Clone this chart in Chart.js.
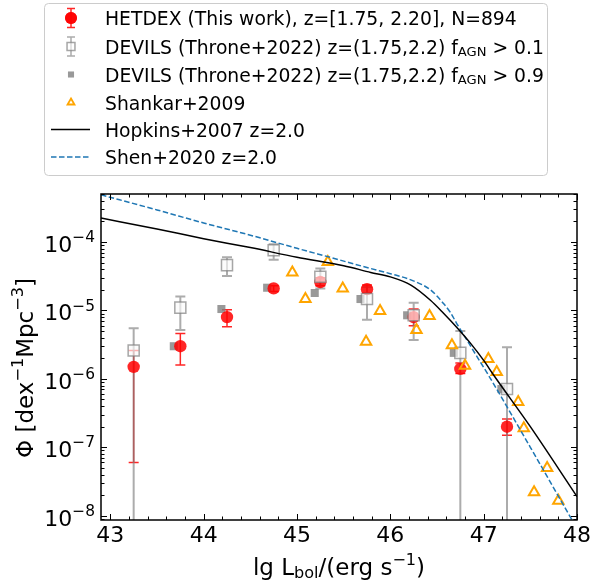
<!DOCTYPE html>
<html>
<head>
<meta charset="utf-8">
<script src="https://cdn.jsdelivr.net/npm/chart.js@4.4.0/dist/chart.umd.min.js"></script>
<style>
  body { margin: 0; background: #fff; }
  #wrap { position: relative; width: 594px; height: 584px; }
</style>
</head>
<body>
<div id="wrap"><canvas id="lf"></canvas></div>
<script>
const FONT = "'DejaVu Sans', sans-serif";

// luminosity bin centres, lg L_bol
const binCentres = [43.25, 43.75, 44.25, 44.75, 45.25, 45.75, 46.25, 46.75, 47.25];

// HETDEX (this work)
const hetdexPhi = [1.5e-6, 3.0e-6, 8.0e-6, 2.1e-5, 2.6e-5, 2.05e-5, 8.0e-6, 1.4e-6, 2.0e-7];
const hetdexLo  = [6.0e-8, 1.6e-6, 5.8e-6, 1.9e-5, 2.3e-5, 1.8e-5, 6.0e-6, 1.2e-6, 1.5e-7];
const hetdexHi  = [2.6e-6, 4.6e-6, 1.02e-5, 2.3e-5, 3.0e-5, 2.35e-5, 1.05e-5, 1.7e-6, 2.6e-7];

// DEVILS f_AGN > 0.1
const devils01Phi = [2.6e-6, 1.1e-5, 4.6e-5, 7.6e-5, 3.1e-5, 1.47e-5, 8.5e-6, 2.4e-6, 7.1e-7];
const devils01Lo  = [1e-10, 5.2e-6, 3.2e-5, 5.5e-5, 2.1e-5, 7.3e-6, 3.7e-6, 1e-10, 1e-10];
const devils01Hi  = [5.5e-6, 1.6e-5, 6.0e-5, 9.3e-5, 4.1e-5, 2.2e-5, 1.3e-5, 5.0e-6, 2.9e-6];

// DEVILS f_AGN > 0.9
const devils09X   = [43.68, 44.19, 44.68, 45.19, 45.68, 46.18, 46.68, 47.19];
const devils09Phi = [3.0e-6, 1.05e-5, 2.15e-5, 1.8e-5, 1.47e-5, 8.5e-6, 2.4e-6, 7.1e-7];

// Shankar+2009
const shankarX   = [44.95, 45.09, 45.33, 45.49, 45.74, 45.89, 46.28, 46.42, 46.66, 46.80, 47.05, 47.14, 47.37, 47.43, 47.54, 47.68, 47.80];
const shankarPhi = [3.6e-5, 1.47e-5, 5.1e-5, 2.1e-5, 3.5e-6, 9.8e-6, 5.2e-6, 8.3e-6, 3.1e-6, 1.55e-6, 1.95e-6, 1.26e-6, 4.6e-7, 1.9e-7, 2.2e-8, 5.0e-8, 1.65e-8];

// Hopkins+2007 z=2.0
const hopkinsX   = [42.9, 43.5, 44.0, 44.5, 45.0, 45.5, 45.79, 46.0, 46.22, 46.43, 46.57, 46.72, 46.86, 47.0, 47.11, 47.5, 48.0];
const hopkinsPhi = [2.24e-4, 1.55e-4, 1.12e-4, 8.3e-5, 6.0e-5, 4.5e-5, 3.6e-5, 3.1e-5, 2.35e-5, 1.41e-5, 9.1e-6, 5.5e-6, 3.3e-6, 1.86e-6, 1.12e-6, 2.0e-7, 1.9e-8];

// Shen+2020 z=2.0
const shenX   = [42.9, 43.5, 44.0, 44.5, 45.0, 45.4, 45.79, 46.0, 46.22, 46.43, 46.57, 46.64, 46.71, 46.82, 46.93, 47.04, 47.5, 47.97];
const shenPhi = [4.9e-4, 2.95e-4, 1.9e-4, 1.26e-4, 8.1e-5, 5.75e-5, 4.1e-5, 3.45e-5, 2.8e-5, 2.0e-5, 1.26e-5, 9.5e-6, 6.5e-6, 3.7e-6, 2.1e-6, 1.2e-6, 1.0e-7, 7.6e-9];

const xTickValues = [43, 44, 45, 46, 47, 48];
const yTickValues = [1e-8, 1e-7, 1e-6, 1e-5, 1e-4];

const pts = (xs, ys) => xs.map((x, i) => ({ x: x, y: ys[i] }));

// text with sub/superscripts: parts = [[text, ''|'sup'|'sub'], ...]
function richWidth(ctx, parts, size) {
  let w = 0;
  parts.forEach(([t, k]) => {
    ctx.font = (k ? size * 0.7 : size) + 'px ' + FONT;
    w += ctx.measureText(t).width;
  });
  return w;
}
function drawRich(ctx, parts, x, y, size, align) {
  const w = richWidth(ctx, parts, size);
  let cx = align === 'right' ? x - w : align === 'center' ? x - w / 2 : x;
  ctx.textBaseline = 'alphabetic';
  ctx.textAlign = 'left';
  parts.forEach(([t, k]) => {
    const s = k ? size * 0.7 : size;
    ctx.font = s + 'px ' + FONT;
    const dy = k === 'sup' ? -0.45 * size : k === 'sub' ? 0.15 * size : 0;
    ctx.fillText(t, cx, y + dy);
    cx += ctx.measureText(t).width;
  });
}

const errorBars = {
  id: 'errorBars',
  beforeDatasetsDraw(chart) {
    const { ctx, chartArea: a, scales: { x, y } } = chart;
    ctx.save();
    ctx.beginPath();
    ctx.rect(a.left, a.top, a.right - a.left, a.bottom - a.top);
    ctx.clip();
    ['HETDEX', 'DEVILS01'].forEach(key => {
      const ds = chart.data.datasets.find(d => d.key === key);
      const eb = ds.errorBars;
      ctx.strokeStyle = eb.color;
      ctx.lineWidth = eb.width;
      ds.data.forEach((p, i) => {
        const px = x.getPixelForValue(p.x);
        const lo = y.getPixelForValue(eb.lo[i]);
        const hi = y.getPixelForValue(eb.hi[i]);
        ctx.beginPath();
        ctx.moveTo(px, lo); ctx.lineTo(px, hi);
        ctx.moveTo(px - eb.cap, lo); ctx.lineTo(px + eb.cap, lo);
        ctx.moveTo(px - eb.cap, hi); ctx.lineTo(px + eb.cap, hi);
        ctx.stroke();
      });
    });
    ctx.restore();
  }
};

const frameTicks = {
  id: 'frameTicks',
  afterDraw(chart) {
    const { ctx, chartArea: a, scales: { x, y } } = chart;
    ctx.save();
    ctx.strokeStyle = '#000';
    ctx.lineWidth = 1;
    const xMinor = [];
    for (let v = 43; v < 48.01; v += 0.2) xMinor.push(Math.round(v * 10) / 10);
    xMinor.forEach(v => {
      const px = Math.round(x.getPixelForValue(v)) + 0.5;
      const len = xTickValues.includes(v) ? 6 : 3.5;
      ctx.beginPath();
      ctx.moveTo(px, a.bottom); ctx.lineTo(px, a.bottom - len);
      ctx.moveTo(px, a.top); ctx.lineTo(px, a.top + len);
      ctx.stroke();
    });
    for (let e = -9; e <= -4; e++) {
      for (let k = 1; k <= 9; k++) {
        const v = k * Math.pow(10, e);
        if (v < y.min || v > y.max) continue;
        const py = Math.round(y.getPixelForValue(v)) + 0.5;
        const len = k === 1 ? 6 : 3.5;
        ctx.beginPath();
        ctx.moveTo(a.left, py); ctx.lineTo(a.left + len, py);
        ctx.moveTo(a.right, py); ctx.lineTo(a.right - len, py);
        ctx.stroke();
      }
    }
    ctx.lineWidth = 1.5;
    ctx.strokeRect(a.left, a.top, a.right - a.left, a.bottom - a.top);

    // y tick labels
    ctx.fillStyle = '#000';
    yTickValues.forEach(v => {
      const py = y.getPixelForValue(v);
      const p = Math.round(-Math.log10(v));
      drawRich(ctx, [['10', ''], ['\u2212' + p, 'sup']], a.left - 6, py + 10, 22, 'right');
    });

    // axis titles
    drawRich(ctx, [['lg L', ''], ['bol', 'sub'], ['/(erg s', ''], ['\u22121', 'sup'], [')', '']],
      (a.left + a.right) / 2, 575, 23, 'center');
    ctx.translate(33, 368);
    ctx.rotate(-Math.PI / 2);
    drawRich(ctx, [['\u03a6 [dex', ''], ['\u22121', 'sup'], ['Mpc', ''], ['\u22123', 'sup'], [']', '']],
      0, 0, 23, 'center');
    ctx.restore();
  }
};

const legendBox = {
  id: 'legendBox',
  afterDraw(chart) {
    const ctx = chart.ctx;
    const drawPoint = Chart.helpers.drawPoint;
    ctx.save();
    ctx.beginPath();
    ctx.roundRect(44.5, 3.5, 503, 172, 4);
    ctx.fillStyle = 'rgba(255,255,255,0.8)';
    ctx.fill();
    ctx.strokeStyle = '#cccccc';
    ctx.lineWidth = 1;
    ctx.stroke();

    const mx = 71, tx = 105, size = 18.75;
    const rows = [18, 46.5, 74.5, 102.5, 129.5, 157];

    // HETDEX
    ctx.strokeStyle = 'rgba(255,0,0,0.85)'; ctx.lineWidth = 1.5;
    ctx.beginPath();
    ctx.moveTo(mx, rows[0] - 9.5); ctx.lineTo(mx, rows[0] + 9.5);
    ctx.moveTo(mx - 4, rows[0] - 9.5); ctx.lineTo(mx + 4, rows[0] - 9.5);
    ctx.moveTo(mx - 4, rows[0] + 9.5); ctx.lineTo(mx + 4, rows[0] + 9.5);
    ctx.stroke();
    ctx.fillStyle = 'rgba(255,0,0,0.85)';
    drawPoint(ctx, { pointStyle: 'circle', radius: 6, borderWidth: 0 }, mx, rows[0]);
    ctx.fill();

    // DEVILS > 0.1
    ctx.strokeStyle = 'rgba(128,128,128,0.65)'; ctx.lineWidth = 1.5;
    ctx.beginPath();
    ctx.moveTo(mx, rows[1] - 9.5); ctx.lineTo(mx, rows[1] + 9.5);
    ctx.moveTo(mx - 4, rows[1] - 9.5); ctx.lineTo(mx + 4, rows[1] - 9.5);
    ctx.moveTo(mx - 4, rows[1] + 9.5); ctx.lineTo(mx + 4, rows[1] + 9.5);
    ctx.stroke();
    ctx.fillStyle = 'rgba(255,255,255,0.6)';
    ctx.strokeStyle = 'rgba(128,128,128,0.7)';
    drawPoint(ctx, { pointStyle: 'rect', radius: 5.6, borderWidth: 1.2 }, mx, rows[1]);

    // DEVILS > 0.9
    ctx.fillStyle = 'rgba(128,128,128,0.8)';
    ctx.strokeStyle = 'rgba(0,0,0,0)';
    drawPoint(ctx, { pointStyle: 'rect', radius: 4.3, borderWidth: 0 }, mx, rows[2]);

    // Shankar
    ctx.fillStyle = 'rgba(0,0,0,0)';
    ctx.strokeStyle = '#ffa500'; ctx.lineWidth = 1.8;
    drawPoint(ctx, { pointStyle: 'triangle', radius: 4, borderWidth: 1.8 }, mx, rows[3]);

    // Hopkins / Shen lines
    ctx.strokeStyle = '#000'; ctx.lineWidth = 1.5;
    ctx.beginPath(); ctx.moveTo(51, rows[4]); ctx.lineTo(90, rows[4]); ctx.stroke();
    ctx.strokeStyle = '#1f77b4'; ctx.setLineDash([5.5, 2.5]);
    ctx.beginPath(); ctx.moveTo(51, rows[5]); ctx.lineTo(90, rows[5]); ctx.stroke();
    ctx.setLineDash([]);

    ctx.fillStyle = '#000';
    const labels = [
      [['HETDEX (This work), z=[1.75, 2.20], N=894', '']],
      [['DEVILS (Throne+2022) z=(1.75,2.2) f', ''], ['AGN', 'sub'], [' > 0.1', '']],
      [['DEVILS (Throne+2022) z=(1.75,2.2) f', ''], ['AGN', 'sub'], [' > 0.9', '']],
      [['Shankar+2009', '']],
      [['Hopkins+2007 z=2.0', '']],
      [['Shen+2020 z=2.0', '']]
    ];
    labels.forEach((parts, i) => drawRich(ctx, parts, tx, rows[i] + 7, size, 'left'));
    ctx.restore();
  }
};

new Chart(document.getElementById('lf'), {
  type: 'scatter',
  data: {
    datasets: [
      {
        label: 'Hopkins+2007 z=2.0', data: pts(hopkinsX, hopkinsPhi), showLine: true,
        borderColor: '#000', borderWidth: 1.5, pointRadius: 0, fill: false,
        cubicInterpolationMode: 'monotone'
      },
      {
        label: 'Shen+2020 z=2.0', data: pts(shenX, shenPhi), showLine: true,
        borderColor: '#1f77b4', borderWidth: 1.5, borderDash: [5.5, 2.5], pointRadius: 0, fill: false,
        cubicInterpolationMode: 'monotone'
      },
      {
        label: 'Shankar+2009', data: pts(shankarX, shankarPhi), pointStyle: 'triangle', pointRadius: 6,
        backgroundColor: 'rgba(0,0,0,0)', borderColor: '#ffa500', borderWidth: 2
      },
      {
        key: 'DEVILS01', label: 'DEVILS f_AGN > 0.1', data: pts(binCentres, devils01Phi),
        pointStyle: 'rect', pointRadius: 7.8,
        backgroundColor: 'rgba(250,250,250,0.65)', borderColor: 'rgba(128,128,128,0.7)', borderWidth: 1.5,
        errorBars: { lo: devils01Lo, hi: devils01Hi, color: 'rgba(128,128,128,0.65)', width: 2, cap: 5 }
      },
      {
        key: 'HETDEX', label: 'HETDEX', data: pts(binCentres, hetdexPhi),
        pointStyle: 'circle', pointRadius: 6.2,
        backgroundColor: 'rgba(255,0,0,0.85)', borderWidth: 0,
        errorBars: { lo: hetdexLo, hi: hetdexHi, color: 'rgba(255,0,0,0.85)', width: 1.5, cap: 5 }
      },
      {
        label: 'DEVILS f_AGN > 0.9', data: pts(devils09X, devils09Phi),
        pointStyle: 'rect', pointRadius: 5.7,
        backgroundColor: 'rgba(128,128,128,0.8)', borderWidth: 0
      }
    ]
  },
  options: {
    responsive: true,
    maintainAspectRatio: false,
    animation: false,
    layout: { padding: { top: 194, right: 17, left: 0, bottom: 0 } },
    plugins: { legend: { display: false }, tooltip: { enabled: false } },
    scales: {
      x: {
        type: 'linear', min: 42.9, max: 48,
        grid: { display: false }, border: { display: false },
        afterBuildTicks: s => { s.ticks = xTickValues.map(v => ({ value: v })); },
        afterFit: s => { s.height = 64; },
        ticks: { font: { family: FONT, size: 22 }, color: '#000', padding: -5, maxRotation: 0,
                 callback: v => String(v) }
      },
      y: {
        type: 'logarithmic', min: 8.65e-9, max: 5.04e-4,
        grid: { display: false }, border: { display: false },
        afterFit: s => { s.width = 101; },
        ticks: { display: false }
      }
    }
  },
  plugins: [errorBars, frameTicks, legendBox]
});
</script>
</body>
</html>
